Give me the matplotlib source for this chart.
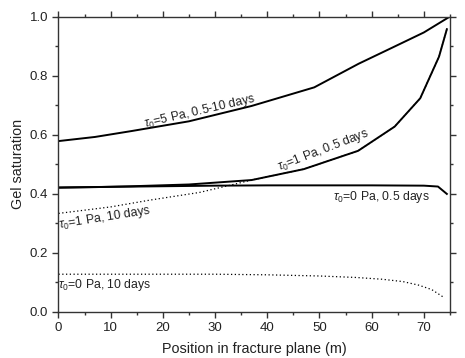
import matplotlib
matplotlib.use('agg')
from matplotlib import pyplot as plt
from matplotlib.ticker import MultipleLocator

plt.rcParams['font.family'] = ['Liberation Sans', 'DejaVu Sans']
plt.rcParams['mathtext.fontset'] = 'custom'
plt.rcParams['mathtext.rm'] = 'Liberation Sans'
plt.rcParams['mathtext.it'] = 'Liberation Sans:italic'

# tau0 = 5 Pa, 0.5-10 days
x_5pa = [0, 7, 14, 25, 37, 49, 57.5, 64, 70, 75]
y_5pa = [0.578, 0.592, 0.612, 0.645, 0.697, 0.760, 0.840, 0.895, 0.946, 1.0]

# tau0 = 1 Pa, 0.5 days
x_1pa_05 = [0, 7, 14, 25, 37, 47, 57.4, 64.4, 69.3, 72.9, 74.4]
y_1pa_05 = [0.420, 0.422, 0.425, 0.431, 0.446, 0.483, 0.545, 0.627, 0.723, 0.864, 0.957]

# tau0 = 0 Pa, 0.5 days
x_0pa_05 = [0, 10, 20, 30, 40, 50, 60, 70, 72.7, 74.4]
y_0pa_05 = [0.421, 0.423, 0.425, 0.427, 0.428, 0.428, 0.428, 0.427, 0.424, 0.399]

# tau0 = 1 Pa, 10 days (joins the 0.5 days curve at ~36 m)
x_1pa_10 = [0, 10, 17.5, 27, 33, 37, 47, 57.4, 64.4, 69.3, 72.9, 74.4]
y_1pa_10 = [0.333, 0.355, 0.378, 0.404, 0.429, 0.446, 0.483, 0.545, 0.627, 0.723, 0.864, 0.957]

# tau0 = 0 Pa, 10 days
x_0pa_10 = [0, 10, 20, 30, 40, 50, 57, 62, 66, 69, 71.5, 73.6]
y_0pa_10 = [0.127, 0.127, 0.127, 0.127, 0.125, 0.121, 0.116, 0.110, 0.102, 0.090, 0.075, 0.051]

fig = plt.figure(figsize=(4.65, 3.58), dpi=100)
ax = fig.add_axes([0.1258, 0.1293, 0.8419, 0.8246])

ax.plot(x_1pa_10, y_1pa_10, color='black', linestyle=(0, (1, 2.0)), linewidth=0.9)
ax.plot(x_0pa_10, y_0pa_10, color='black', linestyle=(0, (1, 2.0)), linewidth=0.9)
ax.plot(x_5pa, y_5pa, color='black', linewidth=1.4)
ax.plot(x_1pa_05, y_1pa_05, color='black', linewidth=1.4)
ax.plot(x_0pa_05, y_0pa_05, color='black', linewidth=1.4)

ax.set_xlim(0, 75)
ax.set_ylim(0, 1.0)
ax.xaxis.set_major_locator(MultipleLocator(10))
ax.xaxis.set_minor_locator(MultipleLocator(5))
ax.yaxis.set_major_locator(MultipleLocator(0.2))
ax.yaxis.set_minor_locator(MultipleLocator(0.1))
ax.yaxis.set_major_formatter(plt.FuncFormatter(lambda v, p: f'{v:.1f}'))

ax.tick_params(which='both', direction='out', top=True, right=True,
               labeltop=False, labelright=False, color='#333333', width=1.0,
               labelsize=9.5, labelcolor='#222222')
ax.tick_params(which='major', length=4)
ax.tick_params(which='minor', length=2.5)
for s in ax.spines.values():
    s.set_color('#333333')
    s.set_linewidth(1.0)

ax.set_xlabel('Position in fracture plane (m)', fontsize=10.4, color='#222222', labelpad=6)
ax.set_ylabel('Gel saturation', fontsize=10.4, color='#222222', labelpad=3)

fs = 8.8
ax.text(27.1, 0.68, r'$\tau_0$=5 Pa, 0.5-10 days', fontsize=fs, rotation=13,
        ha='center', va='center', color='#222222')
ax.text(50.8, 0.548, r'$\tau_0$=1 Pa, 0.5 days', fontsize=fs, rotation=21,
        ha='center', va='center', color='#222222')
ax.text(61.9, 0.39, r'$\tau_0$=0 Pa, 0.5 days', fontsize=fs,
        ha='center', va='center', color='#222222')
ax.text(8.9, 0.318, r'$\tau_0$=1 Pa, 10 days', fontsize=fs, rotation=9,
        ha='center', va='center', color='#222222')
ax.text(8.9, 0.09, r'$\tau_0$=0 Pa, 10 days', fontsize=fs,
        ha='center', va='center', color='#222222')

fig.savefig('out.png', dpi=100)
